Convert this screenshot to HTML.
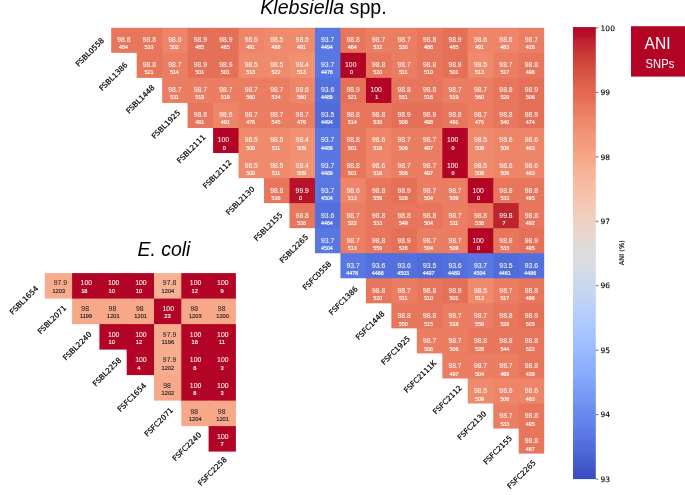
<!DOCTYPE html>
<html lang="en">
<head>
<meta charset="utf-8">
<title>ANI and SNPs heatmaps</title>
<style>
html,body{margin:0;padding:0;background:#fff;}
body{width:685px;height:495px;overflow:hidden;position:relative;}
svg{position:absolute;left:0;top:0;display:block;}
</style>
</head>
<body>
<svg width="685" height="495" viewBox="0 0 685 495">
<rect width="685" height="495" fill="#fff"/>
<text x="260.3" y="13.5" font-family="'Liberation Sans', sans-serif" font-size="19.6" fill="#000"><tspan font-style="italic">Klebsiella</tspan> spp.</text>
<text x="137.6" y="255.5" font-family="'Liberation Sans', sans-serif" font-size="19.4" font-style="italic" fill="#000">E. coli</text>
<g><rect x="111.2" y="27.8" width="26.47" height="25.05" fill="#e8765c"/><rect x="136.67" y="27.8" width="26.47" height="26.05" fill="#e8765c"/><rect x="162.14" y="27.8" width="26.47" height="26.05" fill="#ee8468"/><rect x="187.61" y="27.8" width="26.47" height="26.05" fill="#e57058"/><rect x="213.08" y="27.8" width="26.47" height="26.05" fill="#e57058"/><rect x="238.55" y="27.8" width="26.47" height="26.05" fill="#ee8468"/><rect x="264.02" y="27.8" width="26.47" height="26.05" fill="#f08a6c"/><rect x="289.49" y="27.8" width="26.47" height="26.05" fill="#f08a6c"/><rect x="314.96" y="27.8" width="26.47" height="26.05" fill="#5977e3"/><rect x="340.44" y="27.8" width="26.47" height="26.05" fill="#e8765c"/><rect x="365.91" y="27.8" width="26.47" height="26.05" fill="#eb7d62"/><rect x="391.38" y="27.8" width="26.47" height="26.05" fill="#eb7d62"/><rect x="416.85" y="27.8" width="26.47" height="26.05" fill="#e8765c"/><rect x="442.32" y="27.8" width="26.47" height="26.05" fill="#e57058"/><rect x="467.79" y="27.8" width="26.47" height="26.05" fill="#ee8468"/><rect x="493.26" y="27.8" width="26.47" height="26.05" fill="#ee8468"/><rect x="518.73" y="27.8" width="25.47" height="26.05" fill="#eb7d62"/><rect x="136.67" y="52.85" width="26.47" height="25.05" fill="#e8765c"/><rect x="162.14" y="52.85" width="26.47" height="26.05" fill="#eb7d62"/><rect x="187.61" y="52.85" width="26.47" height="26.05" fill="#e57058"/><rect x="213.08" y="52.85" width="26.47" height="26.05" fill="#e57058"/><rect x="238.55" y="52.85" width="26.47" height="26.05" fill="#f08a6c"/><rect x="264.02" y="52.85" width="26.47" height="26.05" fill="#f08a6c"/><rect x="289.49" y="52.85" width="26.47" height="26.05" fill="#f29072"/><rect x="314.96" y="52.85" width="26.47" height="26.05" fill="#5977e3"/><rect x="340.44" y="52.85" width="26.47" height="26.05" fill="#b40426"/><rect x="365.91" y="52.85" width="26.47" height="26.05" fill="#e8765c"/><rect x="391.38" y="52.85" width="26.47" height="26.05" fill="#eb7d62"/><rect x="416.85" y="52.85" width="26.47" height="26.05" fill="#e8765c"/><rect x="442.32" y="52.85" width="26.47" height="26.05" fill="#e57058"/><rect x="467.79" y="52.85" width="26.47" height="26.05" fill="#f08a6c"/><rect x="493.26" y="52.85" width="26.47" height="26.05" fill="#eb7d62"/><rect x="518.73" y="52.85" width="25.47" height="26.05" fill="#e8765c"/><rect x="162.14" y="77.89" width="26.47" height="25.05" fill="#eb7d62"/><rect x="187.61" y="77.89" width="26.47" height="26.05" fill="#eb7d62"/><rect x="213.08" y="77.89" width="26.47" height="26.05" fill="#eb7d62"/><rect x="238.55" y="77.89" width="26.47" height="26.05" fill="#eb7d62"/><rect x="264.02" y="77.89" width="26.47" height="26.05" fill="#eb7d62"/><rect x="289.49" y="77.89" width="26.47" height="26.05" fill="#ee8468"/><rect x="314.96" y="77.89" width="26.47" height="26.05" fill="#5470de"/><rect x="340.44" y="77.89" width="26.47" height="26.05" fill="#e57058"/><rect x="365.91" y="77.89" width="26.47" height="26.05" fill="#b40426"/><rect x="391.38" y="77.89" width="26.47" height="26.05" fill="#e8765c"/><rect x="416.85" y="77.89" width="26.47" height="26.05" fill="#e8765c"/><rect x="442.32" y="77.89" width="26.47" height="26.05" fill="#eb7d62"/><rect x="467.79" y="77.89" width="26.47" height="26.05" fill="#eb7d62"/><rect x="493.26" y="77.89" width="26.47" height="26.05" fill="#e8765c"/><rect x="518.73" y="77.89" width="25.47" height="26.05" fill="#e57058"/><rect x="187.61" y="102.94" width="26.47" height="25.05" fill="#e8765c"/><rect x="213.08" y="102.94" width="26.47" height="26.05" fill="#ee8468"/><rect x="238.55" y="102.94" width="26.47" height="26.05" fill="#eb7d62"/><rect x="264.02" y="102.94" width="26.47" height="26.05" fill="#eb7d62"/><rect x="289.49" y="102.94" width="26.47" height="26.05" fill="#eb7d62"/><rect x="314.96" y="102.94" width="26.47" height="26.05" fill="#506bda"/><rect x="340.44" y="102.94" width="26.47" height="26.05" fill="#e8765c"/><rect x="365.91" y="102.94" width="26.47" height="26.05" fill="#e8765c"/><rect x="391.38" y="102.94" width="26.47" height="26.05" fill="#e57058"/><rect x="416.85" y="102.94" width="26.47" height="26.05" fill="#e57058"/><rect x="442.32" y="102.94" width="26.47" height="26.05" fill="#e8765c"/><rect x="467.79" y="102.94" width="26.47" height="26.05" fill="#eb7d62"/><rect x="493.26" y="102.94" width="26.47" height="26.05" fill="#e8765c"/><rect x="518.73" y="102.94" width="25.47" height="26.05" fill="#e57058"/><rect x="213.08" y="127.99" width="26.47" height="25.05" fill="#b40426"/><rect x="238.55" y="127.99" width="26.47" height="26.05" fill="#f08a6c"/><rect x="264.02" y="127.99" width="26.47" height="26.05" fill="#f08a6c"/><rect x="289.49" y="127.99" width="26.47" height="26.05" fill="#f29072"/><rect x="314.96" y="127.99" width="26.47" height="26.05" fill="#5977e3"/><rect x="340.44" y="127.99" width="26.47" height="26.05" fill="#e8765c"/><rect x="365.91" y="127.99" width="26.47" height="26.05" fill="#ee8468"/><rect x="391.38" y="127.99" width="26.47" height="26.05" fill="#eb7d62"/><rect x="416.85" y="127.99" width="26.47" height="26.05" fill="#eb7d62"/><rect x="442.32" y="127.99" width="26.47" height="26.05" fill="#b40426"/><rect x="467.79" y="127.99" width="26.47" height="26.05" fill="#f08a6c"/><rect x="493.26" y="127.99" width="26.47" height="26.05" fill="#ee8468"/><rect x="518.73" y="127.99" width="25.47" height="26.05" fill="#ee8468"/><rect x="238.55" y="153.04" width="26.47" height="25.05" fill="#f08a6c"/><rect x="264.02" y="153.04" width="26.47" height="26.05" fill="#f08a6c"/><rect x="289.49" y="153.04" width="26.47" height="26.05" fill="#f29072"/><rect x="314.96" y="153.04" width="26.47" height="26.05" fill="#5977e3"/><rect x="340.44" y="153.04" width="26.47" height="26.05" fill="#e8765c"/><rect x="365.91" y="153.04" width="26.47" height="26.05" fill="#ee8468"/><rect x="391.38" y="153.04" width="26.47" height="26.05" fill="#eb7d62"/><rect x="416.85" y="153.04" width="26.47" height="26.05" fill="#eb7d62"/><rect x="442.32" y="153.04" width="26.47" height="26.05" fill="#b40426"/><rect x="467.79" y="153.04" width="26.47" height="26.05" fill="#f08a6c"/><rect x="493.26" y="153.04" width="26.47" height="26.05" fill="#ee8468"/><rect x="518.73" y="153.04" width="25.47" height="26.05" fill="#ee8468"/><rect x="264.02" y="178.08" width="26.47" height="25.05" fill="#e8765c"/><rect x="289.49" y="178.08" width="26.47" height="26.05" fill="#b8122a"/><rect x="314.96" y="178.08" width="26.47" height="26.05" fill="#5977e3"/><rect x="340.44" y="178.08" width="26.47" height="26.05" fill="#ee8468"/><rect x="365.91" y="178.08" width="26.47" height="26.05" fill="#e8765c"/><rect x="391.38" y="178.08" width="26.47" height="26.05" fill="#e57058"/><rect x="416.85" y="178.08" width="26.47" height="26.05" fill="#eb7d62"/><rect x="442.32" y="178.08" width="26.47" height="26.05" fill="#eb7d62"/><rect x="467.79" y="178.08" width="26.47" height="26.05" fill="#b40426"/><rect x="493.26" y="178.08" width="26.47" height="26.05" fill="#e8765c"/><rect x="518.73" y="178.08" width="25.47" height="26.05" fill="#e8765c"/><rect x="289.49" y="203.13" width="26.47" height="25.05" fill="#e8765c"/><rect x="314.96" y="203.13" width="26.47" height="26.05" fill="#5470de"/><rect x="340.44" y="203.13" width="26.47" height="26.05" fill="#eb7d62"/><rect x="365.91" y="203.13" width="26.47" height="26.05" fill="#e8765c"/><rect x="391.38" y="203.13" width="26.47" height="26.05" fill="#e8765c"/><rect x="416.85" y="203.13" width="26.47" height="26.05" fill="#e8765c"/><rect x="442.32" y="203.13" width="26.47" height="26.05" fill="#eb7d62"/><rect x="467.79" y="203.13" width="26.47" height="26.05" fill="#e8765c"/><rect x="493.26" y="203.13" width="26.47" height="26.05" fill="#be242e"/><rect x="518.73" y="203.13" width="25.47" height="26.05" fill="#e8765c"/><rect x="314.96" y="228.18" width="26.47" height="25.05" fill="#5977e3"/><rect x="340.44" y="228.18" width="26.47" height="26.05" fill="#eb7d62"/><rect x="365.91" y="228.18" width="26.47" height="26.05" fill="#e8765c"/><rect x="391.38" y="228.18" width="26.47" height="26.05" fill="#e57058"/><rect x="416.85" y="228.18" width="26.47" height="26.05" fill="#eb7d62"/><rect x="442.32" y="228.18" width="26.47" height="26.05" fill="#eb7d62"/><rect x="467.79" y="228.18" width="26.47" height="26.05" fill="#b40426"/><rect x="493.26" y="228.18" width="26.47" height="26.05" fill="#e8765c"/><rect x="518.73" y="228.18" width="25.47" height="26.05" fill="#e57058"/><rect x="340.44" y="253.22" width="26.47" height="25.05" fill="#5977e3"/><rect x="365.91" y="253.22" width="26.47" height="26.05" fill="#5470de"/><rect x="391.38" y="253.22" width="26.47" height="26.05" fill="#5470de"/><rect x="416.85" y="253.22" width="26.47" height="26.05" fill="#506bda"/><rect x="442.32" y="253.22" width="26.47" height="26.05" fill="#5470de"/><rect x="467.79" y="253.22" width="26.47" height="26.05" fill="#5977e3"/><rect x="493.26" y="253.22" width="26.47" height="26.05" fill="#506bda"/><rect x="518.73" y="253.22" width="25.47" height="26.05" fill="#5470de"/><rect x="365.91" y="278.27" width="26.47" height="25.05" fill="#e8765c"/><rect x="391.38" y="278.27" width="26.47" height="26.05" fill="#eb7d62"/><rect x="416.85" y="278.27" width="26.47" height="26.05" fill="#e8765c"/><rect x="442.32" y="278.27" width="26.47" height="26.05" fill="#e57058"/><rect x="467.79" y="278.27" width="26.47" height="26.05" fill="#f08a6c"/><rect x="493.26" y="278.27" width="26.47" height="26.05" fill="#eb7d62"/><rect x="518.73" y="278.27" width="25.47" height="26.05" fill="#e8765c"/><rect x="391.38" y="303.32" width="26.47" height="25.05" fill="#e8765c"/><rect x="416.85" y="303.32" width="26.47" height="26.05" fill="#e8765c"/><rect x="442.32" y="303.32" width="26.47" height="26.05" fill="#eb7d62"/><rect x="467.79" y="303.32" width="26.47" height="26.05" fill="#eb7d62"/><rect x="493.26" y="303.32" width="26.47" height="26.05" fill="#e8765c"/><rect x="518.73" y="303.32" width="25.47" height="26.05" fill="#e57058"/><rect x="416.85" y="328.36" width="26.47" height="25.05" fill="#eb7d62"/><rect x="442.32" y="328.36" width="26.47" height="26.05" fill="#eb7d62"/><rect x="467.79" y="328.36" width="26.47" height="26.05" fill="#e8765c"/><rect x="493.26" y="328.36" width="26.47" height="26.05" fill="#e8765c"/><rect x="518.73" y="328.36" width="25.47" height="26.05" fill="#e8765c"/><rect x="442.32" y="353.41" width="26.47" height="25.05" fill="#eb7d62"/><rect x="467.79" y="353.41" width="26.47" height="26.05" fill="#eb7d62"/><rect x="493.26" y="353.41" width="26.47" height="26.05" fill="#eb7d62"/><rect x="518.73" y="353.41" width="25.47" height="26.05" fill="#e8765c"/><rect x="467.79" y="378.46" width="26.47" height="25.05" fill="#f08a6c"/><rect x="493.26" y="378.46" width="26.47" height="26.05" fill="#ee8468"/><rect x="518.73" y="378.46" width="25.47" height="26.05" fill="#ee8468"/><rect x="493.26" y="403.51" width="26.47" height="25.05" fill="#eb7d62"/><rect x="518.73" y="403.51" width="25.47" height="26.05" fill="#e8765c"/><rect x="518.73" y="428.55" width="25.47" height="25.05" fill="#e8765c"/></g>
<g font-family="'Liberation Sans', sans-serif" text-anchor="middle" fill="#fff" stroke="#fff" stroke-width="0.04"><text x="123.94" y="42.3" font-size="6.8">98.8</text><text x="149.41" y="42.3" font-size="6.8">98.8</text><text x="174.88" y="42.3" font-size="6.8">98.6</text><text x="200.35" y="42.3" font-size="6.8">98.9</text><text x="225.82" y="42.3" font-size="6.8">98.9</text><text x="251.29" y="42.3" font-size="6.8">98.6</text><text x="276.76" y="42.3" font-size="6.8">98.5</text><text x="302.23" y="42.3" font-size="6.8">98.5</text><text x="327.7" y="42.3" font-size="6.8">93.7</text><text x="353.17" y="42.3" font-size="6.8">98.8</text><text x="378.64" y="42.3" font-size="6.8">98.7</text><text x="404.11" y="42.3" font-size="6.8">98.7</text><text x="429.58" y="42.3" font-size="6.8">98.8</text><text x="455.05" y="42.3" font-size="6.8">98.9</text><text x="480.52" y="42.3" font-size="6.8">98.6</text><text x="505.99" y="42.3" font-size="6.8">98.6</text><text x="531.46" y="42.3" font-size="6.8">98.7</text><text x="149.41" y="67.35" font-size="6.8">98.8</text><text x="174.88" y="67.35" font-size="6.8">98.7</text><text x="200.35" y="67.35" font-size="6.8">98.9</text><text x="225.82" y="67.35" font-size="6.8">98.9</text><text x="251.29" y="67.35" font-size="6.8">98.5</text><text x="276.76" y="67.35" font-size="6.8">98.5</text><text x="302.23" y="67.35" font-size="6.8">98.4</text><text x="327.7" y="67.35" font-size="6.8">93.7</text><text x="350.77" y="67.35" font-size="6.8">100</text><text x="378.64" y="67.35" font-size="6.8">98.8</text><text x="404.11" y="67.35" font-size="6.8">98.7</text><text x="429.58" y="67.35" font-size="6.8">98.8</text><text x="455.05" y="67.35" font-size="6.8">98.9</text><text x="480.52" y="67.35" font-size="6.8">98.5</text><text x="505.99" y="67.35" font-size="6.8">98.7</text><text x="531.46" y="67.35" font-size="6.8">98.8</text><text x="174.88" y="92.39" font-size="6.8">98.7</text><text x="200.35" y="92.39" font-size="6.8">98.7</text><text x="225.82" y="92.39" font-size="6.8">98.7</text><text x="251.29" y="92.39" font-size="6.8">98.7</text><text x="276.76" y="92.39" font-size="6.8">98.7</text><text x="302.23" y="92.39" font-size="6.8">98.6</text><text x="327.7" y="92.39" font-size="6.8">93.6</text><text x="353.17" y="92.39" font-size="6.8">98.9</text><text x="376.24" y="92.39" font-size="6.8">100</text><text x="404.11" y="92.39" font-size="6.8">98.8</text><text x="429.58" y="92.39" font-size="6.8">98.8</text><text x="455.05" y="92.39" font-size="6.8">98.7</text><text x="480.52" y="92.39" font-size="6.8">98.7</text><text x="505.99" y="92.39" font-size="6.8">98.8</text><text x="531.46" y="92.39" font-size="6.8">98.9</text><text x="200.35" y="117.44" font-size="6.8">98.8</text><text x="225.82" y="117.44" font-size="6.8">98.6</text><text x="251.29" y="117.44" font-size="6.8">98.7</text><text x="276.76" y="117.44" font-size="6.8">98.7</text><text x="302.23" y="117.44" font-size="6.8">98.7</text><text x="327.7" y="117.44" font-size="6.8">93.5</text><text x="353.17" y="117.44" font-size="6.8">98.8</text><text x="378.64" y="117.44" font-size="6.8">98.8</text><text x="404.11" y="117.44" font-size="6.8">98.9</text><text x="429.58" y="117.44" font-size="6.8">98.9</text><text x="455.05" y="117.44" font-size="6.8">98.8</text><text x="480.52" y="117.44" font-size="6.8">98.7</text><text x="505.99" y="117.44" font-size="6.8">98.8</text><text x="531.46" y="117.44" font-size="6.8">98.9</text><text x="223.42" y="142.49" font-size="6.8">100</text><text x="251.29" y="142.49" font-size="6.8">98.5</text><text x="276.76" y="142.49" font-size="6.8">98.5</text><text x="302.23" y="142.49" font-size="6.8">98.4</text><text x="327.7" y="142.49" font-size="6.8">93.7</text><text x="353.17" y="142.49" font-size="6.8">98.8</text><text x="378.64" y="142.49" font-size="6.8">98.6</text><text x="404.11" y="142.49" font-size="6.8">98.7</text><text x="429.58" y="142.49" font-size="6.8">98.7</text><text x="452.65" y="142.49" font-size="6.8">100</text><text x="480.52" y="142.49" font-size="6.8">98.5</text><text x="505.99" y="142.49" font-size="6.8">98.6</text><text x="531.46" y="142.49" font-size="6.8">98.6</text><text x="251.29" y="167.54" font-size="6.8">98.5</text><text x="276.76" y="167.54" font-size="6.8">98.5</text><text x="302.23" y="167.54" font-size="6.8">98.4</text><text x="327.7" y="167.54" font-size="6.8">93.7</text><text x="353.17" y="167.54" font-size="6.8">98.8</text><text x="378.64" y="167.54" font-size="6.8">98.6</text><text x="404.11" y="167.54" font-size="6.8">98.7</text><text x="429.58" y="167.54" font-size="6.8">98.7</text><text x="452.65" y="167.54" font-size="6.8">100</text><text x="480.52" y="167.54" font-size="6.8">98.5</text><text x="505.99" y="167.54" font-size="6.8">98.6</text><text x="531.46" y="167.54" font-size="6.8">98.6</text><text x="276.76" y="192.58" font-size="6.8">98.8</text><text x="302.23" y="192.58" font-size="6.8">99.9</text><text x="327.7" y="192.58" font-size="6.8">93.7</text><text x="353.17" y="192.58" font-size="6.8">98.6</text><text x="378.64" y="192.58" font-size="6.8">98.8</text><text x="404.11" y="192.58" font-size="6.8">98.9</text><text x="429.58" y="192.58" font-size="6.8">98.7</text><text x="455.05" y="192.58" font-size="6.8">98.7</text><text x="478.12" y="192.58" font-size="6.8">100</text><text x="505.99" y="192.58" font-size="6.8">98.8</text><text x="531.46" y="192.58" font-size="6.8">98.8</text><text x="302.23" y="217.63" font-size="6.8">98.8</text><text x="327.7" y="217.63" font-size="6.8">93.6</text><text x="353.17" y="217.63" font-size="6.8">98.7</text><text x="378.64" y="217.63" font-size="6.8">98.8</text><text x="404.11" y="217.63" font-size="6.8">98.8</text><text x="429.58" y="217.63" font-size="6.8">98.8</text><text x="455.05" y="217.63" font-size="6.8">98.7</text><text x="480.52" y="217.63" font-size="6.8">98.8</text><text x="505.99" y="217.63" font-size="6.8">99.8</text><text x="531.46" y="217.63" font-size="6.8">98.8</text><text x="327.7" y="242.68" font-size="6.8">93.7</text><text x="353.17" y="242.68" font-size="6.8">98.7</text><text x="378.64" y="242.68" font-size="6.8">98.8</text><text x="404.11" y="242.68" font-size="6.8">98.9</text><text x="429.58" y="242.68" font-size="6.8">98.7</text><text x="455.05" y="242.68" font-size="6.8">98.7</text><text x="478.12" y="242.68" font-size="6.8">100</text><text x="505.99" y="242.68" font-size="6.8">98.8</text><text x="531.46" y="242.68" font-size="6.8">98.9</text><text x="353.17" y="267.72" font-size="6.8">93.7</text><text x="378.64" y="267.72" font-size="6.8">93.6</text><text x="404.11" y="267.72" font-size="6.8">93.6</text><text x="429.58" y="267.72" font-size="6.8">93.5</text><text x="455.05" y="267.72" font-size="6.8">93.6</text><text x="480.52" y="267.72" font-size="6.8">93.7</text><text x="505.99" y="267.72" font-size="6.8">93.5</text><text x="531.46" y="267.72" font-size="6.8">93.6</text><text x="378.64" y="292.77" font-size="6.8">98.8</text><text x="404.11" y="292.77" font-size="6.8">98.7</text><text x="429.58" y="292.77" font-size="6.8">98.8</text><text x="455.05" y="292.77" font-size="6.8">98.9</text><text x="480.52" y="292.77" font-size="6.8">98.5</text><text x="505.99" y="292.77" font-size="6.8">98.7</text><text x="531.46" y="292.77" font-size="6.8">98.8</text><text x="404.11" y="317.82" font-size="6.8">98.8</text><text x="429.58" y="317.82" font-size="6.8">98.8</text><text x="455.05" y="317.82" font-size="6.8">98.7</text><text x="480.52" y="317.82" font-size="6.8">98.7</text><text x="505.99" y="317.82" font-size="6.8">98.8</text><text x="531.46" y="317.82" font-size="6.8">98.9</text><text x="429.58" y="342.86" font-size="6.8">98.7</text><text x="455.05" y="342.86" font-size="6.8">98.7</text><text x="480.52" y="342.86" font-size="6.8">98.8</text><text x="505.99" y="342.86" font-size="6.8">98.8</text><text x="531.46" y="342.86" font-size="6.8">98.8</text><text x="455.05" y="367.91" font-size="6.8">98.7</text><text x="480.52" y="367.91" font-size="6.8">98.7</text><text x="505.99" y="367.91" font-size="6.8">98.7</text><text x="531.46" y="367.91" font-size="6.8">98.8</text><text x="480.52" y="392.96" font-size="6.8">98.5</text><text x="505.99" y="392.96" font-size="6.8">98.6</text><text x="531.46" y="392.96" font-size="6.8">98.6</text><text x="505.99" y="418.01" font-size="6.8">98.7</text><text x="531.46" y="418.01" font-size="6.8">98.8</text><text x="531.46" y="443.05" font-size="6.8">98.8</text></g>
<g font-family="'Liberation Sans', sans-serif" text-anchor="middle" fill="#fff" stroke="#fff" stroke-width="0.15"><text x="123.54" y="49" font-size="5.35">484</text><text x="148.96" y="49" font-size="5.35">533</text><text x="174.38" y="49" font-size="5.35">502</text><text x="199.8" y="49" font-size="5.35">465</text><text x="225.22" y="49" font-size="5.35">465</text><text x="250.64" y="49" font-size="5.35">491</text><text x="276.06" y="49" font-size="5.35">488</text><text x="301.48" y="49" font-size="5.35">491</text><text x="326.9" y="49" font-size="5.35">4494</text><text x="352.32" y="49" font-size="5.35">484</text><text x="377.74" y="49" font-size="5.35">532</text><text x="403.16" y="49" font-size="5.35">530</text><text x="428.58" y="49" font-size="5.35">486</text><text x="454" y="49" font-size="5.35">465</text><text x="479.42" y="49" font-size="5.35">491</text><text x="504.84" y="49" font-size="5.35">483</text><text x="530.26" y="49" font-size="5.35">426</text><text x="148.96" y="74.14" font-size="5.35">521</text><text x="174.38" y="74.14" font-size="5.35">514</text><text x="199.8" y="74.14" font-size="5.35">501</text><text x="225.22" y="74.14" font-size="5.35">501</text><text x="250.64" y="74.14" font-size="5.35">513</text><text x="276.06" y="74.14" font-size="5.35">522</text><text x="301.48" y="74.14" font-size="5.35">513</text><text x="326.9" y="74.14" font-size="5.35">4478</text><text x="351.42" y="74.14" font-size="5.35">0</text><text x="377.74" y="74.14" font-size="5.35">520</text><text x="403.16" y="74.14" font-size="5.35">511</text><text x="428.58" y="74.14" font-size="5.35">510</text><text x="454" y="74.14" font-size="5.35">501</text><text x="479.42" y="74.14" font-size="5.35">513</text><text x="504.84" y="74.14" font-size="5.35">517</text><text x="530.26" y="74.14" font-size="5.35">496</text><text x="174.38" y="99.27" font-size="5.35">531</text><text x="199.8" y="99.27" font-size="5.35">519</text><text x="225.22" y="99.27" font-size="5.35">519</text><text x="250.64" y="99.27" font-size="5.35">560</text><text x="276.06" y="99.27" font-size="5.35">534</text><text x="301.48" y="99.27" font-size="5.35">560</text><text x="326.9" y="99.27" font-size="5.35">4489</text><text x="352.32" y="99.27" font-size="5.35">521</text><text x="376.84" y="99.27" font-size="5.35">1</text><text x="403.16" y="99.27" font-size="5.35">551</text><text x="428.58" y="99.27" font-size="5.35">516</text><text x="454" y="99.27" font-size="5.35">519</text><text x="479.42" y="99.27" font-size="5.35">560</text><text x="504.84" y="99.27" font-size="5.35">529</text><text x="530.26" y="99.27" font-size="5.35">506</text><text x="199.8" y="124.41" font-size="5.35">491</text><text x="225.22" y="124.41" font-size="5.35">491</text><text x="250.64" y="124.41" font-size="5.35">476</text><text x="276.06" y="124.41" font-size="5.35">545</text><text x="301.48" y="124.41" font-size="5.35">476</text><text x="326.9" y="124.41" font-size="5.35">4494</text><text x="352.32" y="124.41" font-size="5.35">514</text><text x="377.74" y="124.41" font-size="5.35">530</text><text x="403.16" y="124.41" font-size="5.35">508</text><text x="428.58" y="124.41" font-size="5.35">498</text><text x="454" y="124.41" font-size="5.35">491</text><text x="479.42" y="124.41" font-size="5.35">476</text><text x="504.84" y="124.41" font-size="5.35">540</text><text x="530.26" y="124.41" font-size="5.35">474</text><text x="224.32" y="149.55" font-size="5.35">0</text><text x="250.64" y="149.55" font-size="5.35">509</text><text x="276.06" y="149.55" font-size="5.35">511</text><text x="301.48" y="149.55" font-size="5.35">509</text><text x="326.9" y="149.55" font-size="5.35">4489</text><text x="352.32" y="149.55" font-size="5.35">501</text><text x="377.74" y="149.55" font-size="5.35">518</text><text x="403.16" y="149.55" font-size="5.35">506</text><text x="428.58" y="149.55" font-size="5.35">497</text><text x="453.1" y="149.55" font-size="5.35">0</text><text x="479.42" y="149.55" font-size="5.35">509</text><text x="504.84" y="149.55" font-size="5.35">506</text><text x="530.26" y="149.55" font-size="5.35">463</text><text x="250.64" y="174.69" font-size="5.35">509</text><text x="276.06" y="174.69" font-size="5.35">511</text><text x="301.48" y="174.69" font-size="5.35">509</text><text x="326.9" y="174.69" font-size="5.35">4489</text><text x="352.32" y="174.69" font-size="5.35">501</text><text x="377.74" y="174.69" font-size="5.35">518</text><text x="403.16" y="174.69" font-size="5.35">506</text><text x="428.58" y="174.69" font-size="5.35">497</text><text x="453.1" y="174.69" font-size="5.35">0</text><text x="479.42" y="174.69" font-size="5.35">509</text><text x="504.84" y="174.69" font-size="5.35">506</text><text x="530.26" y="174.69" font-size="5.35">463</text><text x="276.06" y="199.82" font-size="5.35">538</text><text x="300.58" y="199.82" font-size="5.35">0</text><text x="326.9" y="199.82" font-size="5.35">4504</text><text x="352.32" y="199.82" font-size="5.35">513</text><text x="377.74" y="199.82" font-size="5.35">559</text><text x="403.16" y="199.82" font-size="5.35">528</text><text x="428.58" y="199.82" font-size="5.35">504</text><text x="454" y="199.82" font-size="5.35">509</text><text x="478.52" y="199.82" font-size="5.35">0</text><text x="504.84" y="199.82" font-size="5.35">533</text><text x="530.26" y="199.82" font-size="5.35">495</text><text x="301.48" y="224.96" font-size="5.35">538</text><text x="326.9" y="224.96" font-size="5.35">4464</text><text x="352.32" y="224.96" font-size="5.35">522</text><text x="377.74" y="224.96" font-size="5.35">533</text><text x="403.16" y="224.96" font-size="5.35">549</text><text x="428.58" y="224.96" font-size="5.35">504</text><text x="454" y="224.96" font-size="5.35">511</text><text x="479.42" y="224.96" font-size="5.35">538</text><text x="503.94" y="224.96" font-size="5.35">7</text><text x="530.26" y="224.96" font-size="5.35">492</text><text x="326.9" y="250.1" font-size="5.35">4504</text><text x="352.32" y="250.1" font-size="5.35">513</text><text x="377.74" y="250.1" font-size="5.35">559</text><text x="403.16" y="250.1" font-size="5.35">528</text><text x="428.58" y="250.1" font-size="5.35">504</text><text x="454" y="250.1" font-size="5.35">509</text><text x="478.52" y="250.1" font-size="5.35">0</text><text x="504.84" y="250.1" font-size="5.35">533</text><text x="530.26" y="250.1" font-size="5.35">495</text><text x="352.32" y="275.23" font-size="5.35">4478</text><text x="377.74" y="275.23" font-size="5.35">4488</text><text x="403.16" y="275.23" font-size="5.35">4503</text><text x="428.58" y="275.23" font-size="5.35">4497</text><text x="454" y="275.23" font-size="5.35">4489</text><text x="479.42" y="275.23" font-size="5.35">4504</text><text x="504.84" y="275.23" font-size="5.35">4461</text><text x="530.26" y="275.23" font-size="5.35">4486</text><text x="377.74" y="300.37" font-size="5.35">520</text><text x="403.16" y="300.37" font-size="5.35">511</text><text x="428.58" y="300.37" font-size="5.35">510</text><text x="454" y="300.37" font-size="5.35">501</text><text x="479.42" y="300.37" font-size="5.35">513</text><text x="504.84" y="300.37" font-size="5.35">517</text><text x="530.26" y="300.37" font-size="5.35">496</text><text x="403.16" y="325.51" font-size="5.35">550</text><text x="428.58" y="325.51" font-size="5.35">515</text><text x="454" y="325.51" font-size="5.35">518</text><text x="479.42" y="325.51" font-size="5.35">559</text><text x="504.84" y="325.51" font-size="5.35">528</text><text x="530.26" y="325.51" font-size="5.35">505</text><text x="428.58" y="350.64" font-size="5.35">506</text><text x="454" y="350.64" font-size="5.35">506</text><text x="479.42" y="350.64" font-size="5.35">528</text><text x="504.84" y="350.64" font-size="5.35">544</text><text x="530.26" y="350.64" font-size="5.35">522</text><text x="454" y="375.78" font-size="5.35">497</text><text x="479.42" y="375.78" font-size="5.35">504</text><text x="504.84" y="375.78" font-size="5.35">499</text><text x="530.26" y="375.78" font-size="5.35">439</text><text x="479.42" y="400.92" font-size="5.35">509</text><text x="504.84" y="400.92" font-size="5.35">506</text><text x="530.26" y="400.92" font-size="5.35">463</text><text x="504.84" y="426.06" font-size="5.35">533</text><text x="530.26" y="426.06" font-size="5.35">495</text><text x="530.26" y="451.19" font-size="5.35">487</text></g>
<g font-family="'DejaVu Sans', sans-serif" fill="#000" stroke="#000" stroke-width="0.2"><text transform="translate(104.7 40.9) rotate(-45)" text-anchor="end" font-size="7.4">FSBL0558</text><text transform="translate(128.18 65.34) rotate(-45)" text-anchor="end" font-size="7.4">FSBL1386</text><text transform="translate(155.16 87.98) rotate(-45)" text-anchor="end" font-size="7.4">FSBL1448</text><text transform="translate(180.74 113.12) rotate(-45)" text-anchor="end" font-size="7.4">FSBL1925</text><text transform="translate(206.02 137.66) rotate(-45)" text-anchor="end" font-size="7.4">FSBL2111</text><text transform="translate(232.1 163) rotate(-45)" text-anchor="end" font-size="7.4">FSBL2112</text><text transform="translate(255.08 189.54) rotate(-45)" text-anchor="end" font-size="7.4">FSBL2130</text><text transform="translate(282.96 215.38) rotate(-45)" text-anchor="end" font-size="7.4">FSBL2155</text><text transform="translate(308.74 237.52) rotate(-45)" text-anchor="end" font-size="7.4">FSBL2265</text><text transform="translate(331.92 264.36) rotate(-45)" text-anchor="end" font-size="7.4">FSFC0558</text><text transform="translate(358.3 289.3) rotate(-45)" text-anchor="end" font-size="7.4">FSFC1386</text><text transform="translate(384.98 314.14) rotate(-45)" text-anchor="end" font-size="7.4">FSFC1448</text><text transform="translate(410.56 339.08) rotate(-45)" text-anchor="end" font-size="7.4">FSFC1925</text><text transform="translate(436.74 363.62) rotate(-45)" text-anchor="end" font-size="7.4">FSFC2111K</text><text transform="translate(462.32 388.46) rotate(-45)" text-anchor="end" font-size="7.4">FSFC2112</text><text transform="translate(486.8 414.2) rotate(-45)" text-anchor="end" font-size="7.4">FSFC2130</text><text transform="translate(512.58 438.74) rotate(-45)" text-anchor="end" font-size="7.4">FSFC2155</text><text transform="translate(536.46 463.08) rotate(-45)" text-anchor="end" font-size="7.4">FSFC2265</text></g>
<g><rect x="44.8" y="273.1" width="28.3" height="25.5" fill="#f7ac8e"/><rect x="72.1" y="273.1" width="28.3" height="26.5" fill="#b40426"/><rect x="99.4" y="273.1" width="28.3" height="26.5" fill="#b40426"/><rect x="126.7" y="273.1" width="28.3" height="26.5" fill="#b40426"/><rect x="154" y="273.1" width="28.3" height="26.5" fill="#f7b194"/><rect x="181.3" y="273.1" width="28.3" height="26.5" fill="#b40426"/><rect x="208.6" y="273.1" width="27.3" height="26.5" fill="#b40426"/><rect x="72.1" y="298.6" width="28.3" height="25.5" fill="#f7a889"/><rect x="99.4" y="298.6" width="28.3" height="26.5" fill="#f7a889"/><rect x="126.7" y="298.6" width="28.3" height="26.5" fill="#f7a889"/><rect x="154" y="298.6" width="28.3" height="26.5" fill="#b40426"/><rect x="181.3" y="298.6" width="28.3" height="26.5" fill="#f7a889"/><rect x="208.6" y="298.6" width="27.3" height="26.5" fill="#f7a889"/><rect x="99.4" y="324.1" width="28.3" height="25.5" fill="#b40426"/><rect x="126.7" y="324.1" width="28.3" height="26.5" fill="#b40426"/><rect x="154" y="324.1" width="28.3" height="26.5" fill="#f7ac8e"/><rect x="181.3" y="324.1" width="28.3" height="26.5" fill="#b40426"/><rect x="208.6" y="324.1" width="27.3" height="26.5" fill="#b40426"/><rect x="126.7" y="349.6" width="28.3" height="25.5" fill="#b40426"/><rect x="154" y="349.6" width="28.3" height="26.5" fill="#f7ac8e"/><rect x="181.3" y="349.6" width="28.3" height="26.5" fill="#b40426"/><rect x="208.6" y="349.6" width="27.3" height="26.5" fill="#b40426"/><rect x="154" y="375.1" width="28.3" height="25.5" fill="#f7a889"/><rect x="181.3" y="375.1" width="28.3" height="26.5" fill="#b40426"/><rect x="208.6" y="375.1" width="27.3" height="26.5" fill="#b40426"/><rect x="181.3" y="400.6" width="28.3" height="25.5" fill="#f7a889"/><rect x="208.6" y="400.6" width="27.3" height="26.5" fill="#f7a889"/><rect x="208.6" y="426.1" width="27.3" height="25.5" fill="#b40426"/></g>
<g font-family="'Liberation Sans', sans-serif" text-anchor="middle" fill="#fff" stroke="#fff" stroke-width="0.04"><text x="86.35" y="285.4" font-size="6.9">100</text><text x="113.65" y="285.4" font-size="6.9">100</text><text x="140.95" y="285.4" font-size="6.9">100</text><text x="195.55" y="285.4" font-size="6.9">100</text><text x="222.85" y="285.4" font-size="6.9">100</text><text x="168.25" y="311.02" font-size="6.9">100</text><text x="113.65" y="336.64" font-size="6.9">100</text><text x="140.95" y="336.64" font-size="6.9">100</text><text x="195.55" y="336.64" font-size="6.9">100</text><text x="222.85" y="336.64" font-size="6.9">100</text><text x="140.95" y="362.26" font-size="6.9">100</text><text x="195.55" y="362.26" font-size="6.9">100</text><text x="222.85" y="362.26" font-size="6.9">100</text><text x="195.55" y="387.88" font-size="6.9">100</text><text x="222.85" y="387.88" font-size="6.9">100</text><text x="222.85" y="439.12" font-size="6.9">100</text></g>
<g font-family="'Liberation Sans', sans-serif" text-anchor="middle" fill="#262626" stroke="#262626" stroke-width="0.04"><text x="60.35" y="285.4" font-size="6.9">97.9</text><text x="169.55" y="285.4" font-size="6.9">97.8</text><text x="85.15" y="311.02" font-size="6.9">98</text><text x="112.45" y="311.02" font-size="6.9">98</text><text x="139.75" y="311.02" font-size="6.9">98</text><text x="194.35" y="311.02" font-size="6.9">98</text><text x="221.65" y="311.02" font-size="6.9">98</text><text x="169.55" y="336.64" font-size="6.9">97.9</text><text x="169.55" y="362.26" font-size="6.9">97.9</text><text x="167.05" y="387.88" font-size="6.9">98</text><text x="194.35" y="413.5" font-size="6.9">98</text><text x="221.65" y="413.5" font-size="6.9">98</text></g>
<g font-family="'Liberation Sans', sans-serif" text-anchor="middle" fill="#fff" stroke="#fff" stroke-width="0.15"><text x="84.35" y="292.7" font-size="5.7">18</text><text x="111.65" y="292.7" font-size="5.7">10</text><text x="138.95" y="292.7" font-size="5.7">10</text><text x="194.75" y="292.7" font-size="5.7">12</text><text x="222.05" y="292.7" font-size="5.7">9</text><text x="167.45" y="318.32" font-size="5.7">23</text><text x="111.65" y="343.94" font-size="5.7">10</text><text x="138.95" y="343.94" font-size="5.7">12</text><text x="194.75" y="343.94" font-size="5.7">16</text><text x="222.05" y="343.94" font-size="5.7">11</text><text x="138.95" y="369.56" font-size="5.7">4</text><text x="194.75" y="369.56" font-size="5.7">8</text><text x="222.05" y="369.56" font-size="5.7">3</text><text x="194.75" y="395.18" font-size="5.7">8</text><text x="222.05" y="395.18" font-size="5.7">3</text><text x="222.05" y="446.42" font-size="5.7">7</text></g>
<g font-family="'Liberation Sans', sans-serif" text-anchor="middle" fill="#262626" stroke="#262626" stroke-width="0.15"><text x="58.75" y="292.7" font-size="5.7">1203</text><text x="167.95" y="292.7" font-size="5.7">1204</text><text x="86.05" y="318.32" font-size="5.7">1199</text><text x="113.35" y="318.32" font-size="5.7">1201</text><text x="140.65" y="318.32" font-size="5.7">1201</text><text x="195.25" y="318.32" font-size="5.7">1203</text><text x="222.55" y="318.32" font-size="5.7">1200</text><text x="167.95" y="343.94" font-size="5.7">1196</text><text x="167.95" y="369.56" font-size="5.7">1202</text><text x="167.95" y="395.18" font-size="5.7">1202</text><text x="195.25" y="420.8" font-size="5.7">1204</text><text x="222.55" y="420.8" font-size="5.7">1201</text></g>
<g font-family="'DejaVu Sans', sans-serif" fill="#000" stroke="#000" stroke-width="0.2"><text transform="translate(38.8 289) rotate(-45)" text-anchor="end" font-size="7.4">FSBL1654</text><text transform="translate(66.72 308.54) rotate(-45)" text-anchor="end" font-size="7.4">FSBL2071</text><text transform="translate(92.14 334.78) rotate(-45)" text-anchor="end" font-size="7.4">FSBL2240</text><text transform="translate(121.76 360.62) rotate(-45)" text-anchor="end" font-size="7.4">FSBL2258</text><text transform="translate(146.78 386.16) rotate(-45)" text-anchor="end" font-size="7.4">FSFC1654</text><text transform="translate(173.7 410.7) rotate(-45)" text-anchor="end" font-size="7.4">FSFC2071</text><text transform="translate(201.82 435.24) rotate(-45)" text-anchor="end" font-size="7.4">FSFC2240</text><text transform="translate(227.24 459.98) rotate(-45)" text-anchor="end" font-size="7.4">FSFC2258</text></g>
<defs><linearGradient id="cb" x1="0" y1="0" x2="0" y2="1"><stop offset="0" stop-color="#b40426"/><stop offset="0.02" stop-color="#b8122a"/><stop offset="0.03" stop-color="#be242e"/><stop offset="0.05" stop-color="#c43032"/><stop offset="0.06" stop-color="#ca3b37"/><stop offset="0.08" stop-color="#cf453c"/><stop offset="0.09" stop-color="#d44e41"/><stop offset="0.11" stop-color="#d85646"/><stop offset="0.12" stop-color="#dd5f4b"/><stop offset="0.14" stop-color="#e16751"/><stop offset="0.16" stop-color="#e46e56"/><stop offset="0.17" stop-color="#e8765c"/><stop offset="0.19" stop-color="#eb7d62"/><stop offset="0.2" stop-color="#ee8468"/><stop offset="0.22" stop-color="#f08b6e"/><stop offset="0.23" stop-color="#f29274"/><stop offset="0.25" stop-color="#f4987a"/><stop offset="0.27" stop-color="#f59f80"/><stop offset="0.28" stop-color="#f6a586"/><stop offset="0.3" stop-color="#f7aa8c"/><stop offset="0.31" stop-color="#f7b093"/><stop offset="0.33" stop-color="#f7b599"/><stop offset="0.34" stop-color="#f7ba9f"/><stop offset="0.36" stop-color="#f6bfa6"/><stop offset="0.38" stop-color="#f5c4ac"/><stop offset="0.39" stop-color="#f3c8b2"/><stop offset="0.41" stop-color="#f1ccb8"/><stop offset="0.42" stop-color="#efcfbf"/><stop offset="0.44" stop-color="#ecd3c5"/><stop offset="0.45" stop-color="#e9d5cb"/><stop offset="0.47" stop-color="#e5d8d1"/><stop offset="0.48" stop-color="#e1dad6"/><stop offset="0.5" stop-color="#dddcdc"/><stop offset="0.52" stop-color="#d9dce1"/><stop offset="0.53" stop-color="#d5dbe5"/><stop offset="0.55" stop-color="#d1dae9"/><stop offset="0.56" stop-color="#ccd9ed"/><stop offset="0.58" stop-color="#c7d7f0"/><stop offset="0.59" stop-color="#c3d5f4"/><stop offset="0.61" stop-color="#bed2f6"/><stop offset="0.62" stop-color="#b9d0f9"/><stop offset="0.64" stop-color="#b3cdfb"/><stop offset="0.66" stop-color="#aec9fc"/><stop offset="0.67" stop-color="#a9c6fd"/><stop offset="0.69" stop-color="#a3c2fe"/><stop offset="0.7" stop-color="#9ebeff"/><stop offset="0.72" stop-color="#98b9ff"/><stop offset="0.73" stop-color="#93b5fe"/><stop offset="0.75" stop-color="#8db0fe"/><stop offset="0.77" stop-color="#88abfd"/><stop offset="0.78" stop-color="#82a6fb"/><stop offset="0.8" stop-color="#7da0f9"/><stop offset="0.81" stop-color="#779af7"/><stop offset="0.83" stop-color="#7295f4"/><stop offset="0.84" stop-color="#6c8ff1"/><stop offset="0.86" stop-color="#6788ee"/><stop offset="0.88" stop-color="#6282ea"/><stop offset="0.89" stop-color="#5d7ce6"/><stop offset="0.91" stop-color="#5875e1"/><stop offset="0.92" stop-color="#536edd"/><stop offset="0.94" stop-color="#4e68d8"/><stop offset="0.95" stop-color="#4961d2"/><stop offset="0.97" stop-color="#445acc"/><stop offset="0.98" stop-color="#3f53c6"/><stop offset="1" stop-color="#3b4cc0"/></linearGradient></defs><rect x="573" y="27.1" width="22.8" height="452" fill="url(#cb)"/><g font-family="'DejaVu Sans', sans-serif" fill="#000" stroke="#000" stroke-width="0.12"><line x1="595.8" x2="598.4" y1="479.1" y2="479.1" stroke="#000" stroke-width="0.6"/><text x="600.6" y="481.8" font-size="7.5">93</text><line x1="595.8" x2="598.4" y1="414.64" y2="414.64" stroke="#000" stroke-width="0.6"/><text x="600.6" y="417.34" font-size="7.5">94</text><line x1="595.8" x2="598.4" y1="350.19" y2="350.19" stroke="#000" stroke-width="0.6"/><text x="600.6" y="352.89" font-size="7.5">95</text><line x1="595.8" x2="598.4" y1="285.73" y2="285.73" stroke="#000" stroke-width="0.6"/><text x="600.6" y="288.43" font-size="7.5">96</text><line x1="595.8" x2="598.4" y1="221.27" y2="221.27" stroke="#000" stroke-width="0.6"/><text x="600.6" y="223.97" font-size="7.5">97</text><line x1="595.8" x2="598.4" y1="156.81" y2="156.81" stroke="#000" stroke-width="0.6"/><text x="600.6" y="159.51" font-size="7.5">98</text><line x1="595.8" x2="598.4" y1="92.36" y2="92.36" stroke="#000" stroke-width="0.6"/><text x="600.6" y="95.06" font-size="7.5">99</text><line x1="595.8" x2="598.4" y1="27.9" y2="27.9" stroke="#000" stroke-width="0.6"/><text x="600.6" y="30.6" font-size="7.5">100</text><text transform="translate(624 252.7) rotate(-90)" text-anchor="middle" font-size="6.6">ANI (%)</text></g>
<rect x="631" y="26.2" width="54" height="50.4" fill="#b40426"/>
<g font-family="'Liberation Sans', sans-serif" fill="#fff">
<text x="644.5" y="49.2" font-size="15.6">ANI</text>
<text transform="translate(645.6 67.7) scale(0.92 1)" font-size="12.2">SNPs</text>
</g>
</svg>
</body>
</html>
